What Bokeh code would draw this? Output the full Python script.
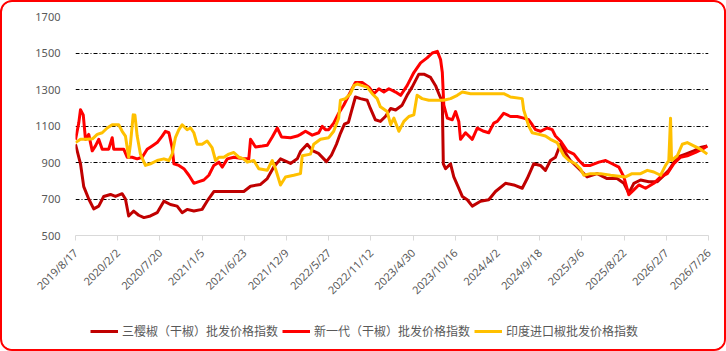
import math
from bokeh.plotting import figure
from bokeh.layouts import column
from bokeh.models import FixedTicker, Legend, LegendItem, ColumnDataSource
from bokeh.embed import file_html
from bokeh.resources import INLINE

# x positions are days since 2019/8/17
tick_days = [0, 169, 338, 507, 676, 845, 1014, 1183, 1352, 1521, 1690, 1859, 2028, 2197, 2366, 2535]
tick_labels = ["2019/8/17", "2020/2/2", "2020/7/20", "2021/1/5", "2021/6/23", "2021/12/9",
               "2022/5/27", "2022/11/12", "2023/4/30", "2023/10/16", "2024/4/2", "2024/9/18",
               "2025/3/6", "2025/8/22", "2026/2/7", "2026/7/26"]
y_ticks = [500, 700, 900, 1100, 1300, 1500, 1700]

series_names = ["三樱椒（干椒）批发价格指数", "新一代（干椒）批发价格指数", "印度进口椒批发价格指数"]

sanying_days = [0, 20, 33, 53, 73, 93, 113, 140, 160, 187, 200, 213, 233, 253, 274, 300, 327, 354,
                380, 407, 427, 447, 474, 507, 527, 554, 594, 634, 674, 701, 741, 768, 794, 821, 861,
                888, 901, 928, 949, 973, 1005, 1025, 1045, 1061, 1077, 1093, 1105, 1121, 1141, 1168,
                1181, 1201, 1221, 1241, 1262, 1282, 1308, 1328, 1348, 1375, 1395, 1422, 1442, 1455,
                1469, 1473, 1482, 1502, 1515, 1529, 1549, 1569, 1589, 1622, 1655, 1682, 1722, 1755,
                1789, 1809, 1835, 1862, 1882, 1902, 1922, 1942, 1956, 1982, 2016, 2049, 2089, 2129,
                2169, 2196, 2216, 2236, 2263, 2296, 2330, 2350, 2376, 2410, 2443, 2476, 2503, 2530]
sanying_vals = [1000, 893, 768, 700, 646, 661, 714, 725, 714, 729, 700, 607, 634, 611, 598, 607, 625,
                688, 670, 661, 625, 643, 634, 643, 688, 741, 741, 741, 741, 770, 780, 812, 875, 920,
                895, 920, 960, 1000, 965, 950, 905, 940, 1000, 1060, 1110, 1120, 1180, 1259, 1250,
                1241, 1196, 1134, 1125, 1152, 1196, 1188, 1214, 1268, 1313, 1384, 1384, 1366, 1321,
                1277, 1232, 893, 866, 893, 821, 777, 714, 696, 661, 688, 696, 741, 786, 777, 759, 812,
                893, 884, 857, 911, 929, 1000, 964, 911, 866, 821, 839, 812, 812, 786, 732, 786, 804,
                795, 795, 821, 857, 929, 946, 964, 982, 991]

xinyidai_days = [0, 13, 20, 31, 40, 53, 67, 80, 93, 107, 133, 147, 153, 193, 207, 227, 247, 267, 287,
                 307, 327, 347, 360, 374, 387, 394, 414, 434, 454, 474, 494, 514, 534, 554, 574, 588,
                 608, 634, 674, 694, 701, 721, 748, 768, 788, 808, 825, 861, 888, 901, 921, 948, 974,
                 988, 1001, 1014, 1034, 1054, 1074, 1101, 1121, 1148, 1175, 1195, 1215, 1235, 1255,
                 1282, 1302, 1328, 1355, 1382, 1408, 1429, 1449, 1462, 1469, 1475, 1489, 1509, 1522,
                 1535, 1542, 1562, 1589, 1609, 1635, 1655, 1675, 1689, 1715, 1742, 1769, 1795, 1815,
                 1829, 1842, 1862, 1889, 1909, 1922, 1942, 1969, 1996, 2016, 2036, 2062, 2096, 2123,
                 2149, 2176, 2196, 2216, 2236, 2256, 2283, 2316, 2343, 2370, 2396, 2423, 2450, 2483,
                 2510, 2530]
xinyidai_vals = [1025, 1116, 1189, 1161, 1027, 1054, 964, 991, 1027, 973, 973, 1036, 973, 973, 929,
                 929, 920, 929, 973, 991, 1009, 1045, 1071, 1063, 982, 893, 884, 866, 830, 786, 795,
                 804, 830, 884, 902, 875, 920, 929, 920, 920, 1027, 985, 990, 995, 1040, 1089, 1040,
                 1036, 1045, 1054, 1071, 1050, 1063, 1098, 1080, 1080, 1116, 1170, 1214, 1286, 1339,
                 1339, 1313, 1277, 1304, 1286, 1304, 1286, 1268, 1321, 1393, 1446, 1473, 1500, 1509,
                 1464, 1393, 1214, 1143, 1134, 1179, 1125, 1027, 1063, 1027, 1089, 1071, 1063, 1116,
                 1125, 1170, 1152, 1152, 1143, 1134, 1107, 1080, 1071, 1089, 1080, 1045, 1018, 964,
                 946, 911, 884, 884, 902, 911, 893, 875, 821, 723, 750, 777, 759, 786, 821, 839, 893,
                 929, 937, 955, 973, 991]

india_days = [0, 20, 47, 68, 87, 107, 127, 147, 173, 187, 200, 213, 220, 231, 238, 247, 260, 280, 300,
              327, 354, 374, 387, 400, 414, 427, 447, 461, 474, 487, 507, 527, 547, 561, 574, 594, 614,
              634, 654, 674, 688, 714, 734, 768, 788, 801, 821, 841, 874, 901, 908, 941, 954, 981,
              1014, 1034, 1054, 1061, 1081, 1101, 1115, 1128, 1148, 1168, 1188, 1208, 1221, 1248,
              1262, 1275, 1295, 1315, 1335, 1355, 1368, 1388, 1415, 1449, 1474, 1502, 1529, 1549,
              1582, 1622, 1682, 1715, 1742, 1789, 1795, 1815, 1829, 1856, 1882, 1902, 1929, 1942,
              1956, 1976, 2002, 2022, 2036, 2062, 2103, 2143, 2203, 2229, 2263, 2290, 2316, 2343,
              2363, 2376, 2383, 2387, 2410, 2430, 2450, 2476, 2503, 2530]
india_vals = [1009, 1027, 1027, 1030, 1054, 1063, 1089, 1107, 1107, 1071, 1045, 929, 1000, 1161, 1160,
              1045, 946, 884, 893, 911, 920, 911, 946, 1036, 1080, 1107, 1080, 1089, 1063, 1000, 1000,
              1018, 982, 911, 929, 929, 946, 955, 929, 920, 902, 911, 866, 857, 911, 866, 777, 821,
              830, 839, 937, 946, 1000, 1027, 1036, 1071, 1143, 1241, 1250, 1277, 1321, 1330, 1321,
              1313, 1277, 1250, 1205, 1179, 1107, 1143, 1071, 1125, 1152, 1161, 1268, 1250, 1241,
              1241, 1241, 1250, 1268, 1286, 1277, 1277, 1277, 1277, 1259, 1250, 1188, 1100, 1063,
              1054, 1045, 1027, 1009, 973, 937, 911, 893, 866, 830, 839, 839, 830, 821, 839, 839,
              857, 848, 830, 884, 911, 1143, 911, 937, 1000, 1009, 991, 973, 946]

colors = ["#C00000", "#FF0000", "#FFC000"]
series = [(sanying_days, sanying_vals), (xinyidai_days, xinyidai_vals), (india_days, india_vals)]

BORDER = 2
W = 726 - 2 * BORDER
H_MAIN = 303
H_LEG = 351 - 2 * BORDER - H_MAIN

p = figure(width=W, height=H_MAIN,
           x_range=(tick_days[0], tick_days[-1]), y_range=(y_ticks[0], y_ticks[-1]),
           output_backend="svg", toolbar_location=None,
           min_border_left=75 - BORDER, min_border_right=18 - BORDER,
           min_border_top=16 - BORDER, min_border_bottom=H_MAIN - (240 - BORDER))
p.outline_line_color = None
p.background_fill_color = "white"
p.border_fill_color = "white"

sources = []
for (days, vals), c in zip(series, colors):
    src = ColumnDataSource(dict(x=days, y=vals))
    sources.append(src)
    p.line("x", "y", source=src, line_color=c, line_width=3, line_join="round")

label_font = "Noto Sans"
label_color = "#595959"

xa = p.xaxis[0]
xa.ticker = FixedTicker(ticks=tick_days)
xa.major_label_overrides = {d: lbl for d, lbl in zip(tick_days, tick_labels)}
xa.major_label_orientation = math.pi / 4
xa.axis_line_color = "#D9D9D9"
xa.major_tick_line_color = "#D9D9D9"
xa.major_tick_out = 5
xa.major_tick_in = 0
xa.minor_tick_line_color = None
xa.major_label_text_font = label_font
xa.major_label_text_font_size = "11px"
xa.major_label_text_color = label_color
xa.major_label_standoff = 10

ya = p.yaxis[0]
ya.ticker = FixedTicker(ticks=y_ticks)
ya.axis_line_color = None
ya.major_tick_line_color = None
ya.minor_tick_line_color = None
ya.major_label_text_font = label_font
ya.major_label_text_font_size = "11px"
ya.major_label_text_color = label_color
ya.major_label_standoff = 9

p.xgrid.grid_line_color = None
p.ygrid.ticker = FixedTicker(ticks=y_ticks[1:])
p.ygrid.grid_line_color = "black"
p.ygrid.grid_line_dash = "4 2 1 2"
p.ygrid.grid_line_width = 1

# legend strip (its lines fall outside its own ranges, only the legend shows)
pl = figure(width=W, height=H_LEG, x_range=(-2, -1), y_range=(-2, -1),
            output_backend="svg", toolbar_location=None, min_border=0,
            x_axis_location=None, y_axis_location=None)
pl.grid.visible = False
pl.outline_line_color = None
pl.border_fill_color = "white"
pl.background_fill_color = "white"
leg_renderers = [pl.line("x", "y", source=s, line_color=c, line_width=3)
                 for s, c in zip(sources, colors)]
legend = Legend(items=[LegendItem(label=n, renderers=[r]) for n, r in zip(series_names, leg_renderers)],
                orientation="horizontal", location=(15, 10),
                label_text_font="Noto Sans CJK SC", label_text_font_size="12px",
                label_text_color=label_color, glyph_width=28, glyph_height=16,
                label_standoff=4, spacing=4, padding=0, margin=0,
                background_fill_alpha=0, border_line_color=None)
pl.add_layout(legend, "center")

layout = column(p, pl, spacing=0)
layout.styles = {"border": f"{BORDER}px solid #FF0000", "border-radius": "12px",
                 "overflow": "hidden", "background": "white"}

open("out.html", "w").write(file_html(layout, INLINE))
